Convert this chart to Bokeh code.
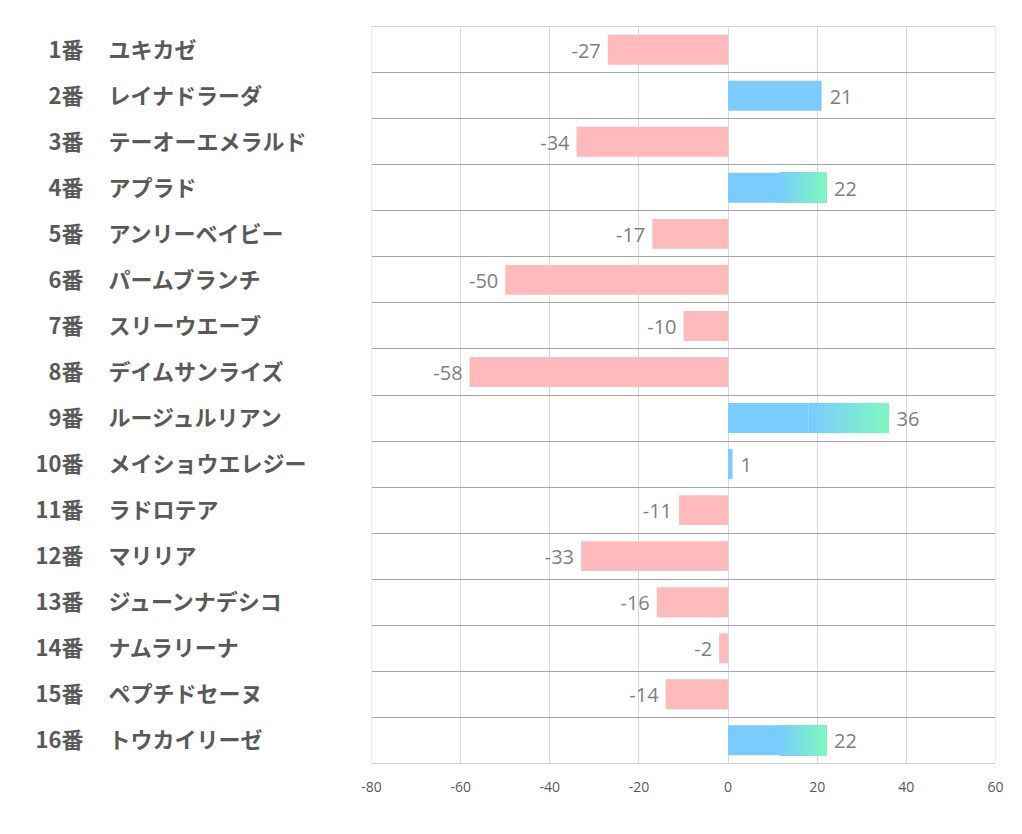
from bokeh.plotting import figure
from bokeh.models import ColumnDataSource, FixedTicker, Range1d
from bokeh.layouts import row
from bokeh.embed import file_html
from bokeh.resources import INLINE
from bokeh.core.properties import value

numbers = ["1番", "2番", "3番", "4番", "5番", "6番", "7番", "8番",
           "9番", "10番", "11番", "12番", "13番", "14番", "15番", "16番"]
names = ["ユキカゼ", "レイナドラーダ", "テーオーエメラルド", "アプラド", "アンリーベイビー",
         "パームブランチ", "スリーウエーブ", "デイムサンライズ", "ルージュルリアン",
         "メイショウエレジー", "ラドロテア", "マリリア", "ジューンナデシコ", "ナムラリーナ",
         "ペプチドセーヌ", "トウカイリーゼ"]
values = [-27, 21, -34, 22, -17, -50, -10, -58, 36, 1, -11, -33, -16, -2, -14, 22]
highlight = [False, False, False, True, False, False, False, False,
             True, False, False, False, False, False, False, True]
x_ticks = [-80, -60, -40, -20, 0, 20, 40, 60]
x_tick_labels = ["-80", "-60", "-40", "-20", "0", "20", "40", "60"]

PINK = "#FFBBBC"
BLUE = (122, 203, 255)
GREEN = (126, 248, 190)
BAR_H = 0.65
EPS = 0.003

n = len(values)
rows = list(range(n))
y_range = Range1d(n - 0.5 + EPS, -0.5 - EPS)

# ---------------- main chart ----------------
p = figure(frame_width=624, frame_height=737, output_backend="svg", toolbar_location=None,
           x_range=(x_ticks[0] - 0.02, x_ticks[-1] + 0.02), y_range=y_range,
           min_border_left=20, min_border_top=26, min_border_right=16, min_border_bottom=10)
p.outline_line_color = None
p.background_fill_color = "white"
p.border_fill_color = "white"

p.xgrid.ticker = FixedTicker(ticks=x_ticks)
p.xgrid.grid_line_color = "#D9D9D9"
p.xgrid.grid_line_width = 1
p.ygrid.ticker = FixedTicker(ticks=[i - 0.5 for i in range(n + 1)])
p.ygrid.grid_line_color = "#A6A6A6"
p.ygrid.grid_line_width = 1

p.yaxis.visible = False
xa = p.xaxis[0]
xa.ticker = FixedTicker(ticks=x_ticks)
xa.major_label_overrides = {t: s for t, s in zip(x_ticks, x_tick_labels)}
xa.axis_line_color = None
xa.major_tick_line_color = None
xa.minor_tick_line_color = None
xa.major_label_standoff = 12
xa.major_label_text_font = "Open Sans"
xa.major_label_text_font_size = "14px"
xa.major_label_text_color = "#595959"

# bars
solid_left, solid_right, solid_y, solid_c = [], [], [], []
for i, v in enumerate(values):
    if v < 0:
        solid_left.append(v); solid_right.append(0); solid_y.append(i); solid_c.append(PINK)
    else:
        solid_left.append(0)
        solid_right.append(v * 0.5 if highlight[i] else v)
        solid_y.append(i)
        solid_c.append("#%02X%02X%02X" % BLUE)
p.hbar(y=solid_y, left=solid_left, right=solid_right, height=BAR_H,
       fill_color=solid_c, line_color=None)

# gradient parts (overlapping slices, each running to the bar end)
g_left, g_right, g_y, g_c = [], [], [], []
STEPS = 60
for i, v in enumerate(values):
    if highlight[i] and v > 0:
        start = v * 0.5
        w = (v - start) / STEPS
        for k in range(STEPS):
            t = k / (STEPS - 1)
            c = tuple(round(BLUE[j] + (GREEN[j] - BLUE[j]) * t) for j in range(3))
            g_left.append(start + k * w)
            g_right.append(v)
            g_y.append(i)
            g_c.append("#%02X%02X%02X" % c)
p.hbar(y=g_y, left=g_left, right=g_right, height=BAR_H,
       fill_color=g_c, line_color=None)

# value labels
pos = ColumnDataSource(dict(x=[v for v in values if v >= 0],
                            y=[i for i, v in enumerate(values) if v >= 0],
                            t=[str(v) for v in values if v >= 0]))
neg = ColumnDataSource(dict(x=[v for v in values if v < 0],
                            y=[i for i, v in enumerate(values) if v < 0],
                            t=[str(v) for v in values if v < 0]))
p.text(x="x", y="y", text="t", source=pos, x_offset=8, y_offset=1,
       text_align="left", text_baseline="middle", text_color="#7F7F7F",
       text_font=value("Open Sans"), text_font_size="20px")
p.text(x="x", y="y", text="t", source=neg, x_offset=-7, y_offset=1,
       text_align="right", text_baseline="middle", text_color="#7F7F7F",
       text_font=value("Open Sans"), text_font_size="20px")

# ---------------- row labels panel ----------------
PANEL_W = 351
left = figure(frame_width=PANEL_W, frame_height=737, output_backend="svg", toolbar_location=None,
              x_range=(0, PANEL_W), y_range=y_range, x_axis_location=None, y_axis_location=None,
              min_border_left=0, min_border_right=0, min_border_top=26, min_border_bottom=10)
left.outline_line_color = None
left.grid.visible = False
left.border_fill_color = "white"

lab = ColumnDataSource(dict(y=rows, num=numbers, name=names))
left.text(x=83, y="y", text="num", source=lab, y_offset=-2,
          text_align="right", text_baseline="middle", text_color="#595959",
          text_font=value("Noto Sans CJK JP"), text_font_style="bold",
          text_font_size="22px")
left.text(x=108, y="y", text="name", source=lab, y_offset=-2,
          text_align="left", text_baseline="middle", text_color="#595959",
          text_font=value("Noto Sans CJK JP"), text_font_style="bold",
          text_font_size="22px")

layout = row(left, p)
open("out.html", "w").write(file_html(layout, INLINE))
